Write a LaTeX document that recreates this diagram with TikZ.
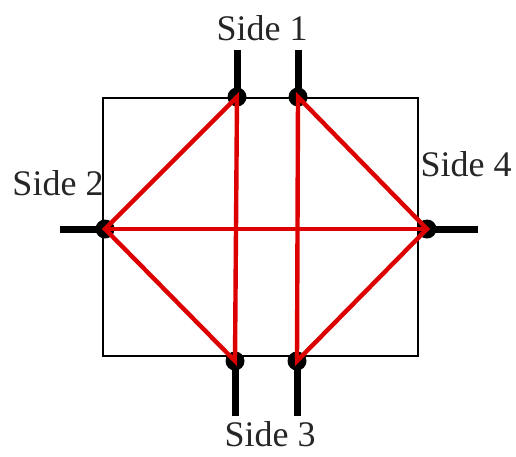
\documentclass[tikz,border=0pt]{standalone}
\usepackage{fontspec}
\setmainfont{Liberation Serif}
\begin{document}
\begin{tikzpicture}[x=1pt,y=-1pt,
  frame/.style={draw=black,line width=1.8pt},
  stub/.style={draw=black,line width=7pt},
  dotnode/.style={circle,fill=black,inner sep=0pt,minimum size=19pt},
  redline/.style={draw={rgb,255:red,220;green,0;blue,0},line width=4.4pt,line cap=round},
  lbl/.style={font=\fontsize{36}{40}\selectfont,text=black!85,inner sep=0pt}]
\useasboundingbox (0,0) rectangle (516,456);
\node[frame,minimum width=315pt,minimum height=258pt,inner sep=0pt] (box) at (260.5,227) {};
% end coordinates of the stubs
\coordinate (t1e) at (237,50);
\coordinate (t2e) at (298,50);
\coordinate (b1e) at (235,416);
\coordinate (b2e) at (297,416);
\coordinate (le) at (60,229);
\coordinate (re) at (478,229);
% dots
\node[dotnode] (t1) at (237,97) {};
\node[dotnode] (t2) at (298,97) {};
\node[dotnode] (b1) at (235,361) {};
\node[dotnode] (b2) at (297,361) {};
\node[dotnode] (l) at (105,229) {};
\node[dotnode] (r) at (427,229) {};
% stubs
\draw[stub] (t1e) -- (t1.center);
\draw[stub] (t2e) -- (t2.center);
\draw[stub] (b1e) -- (b1.center);
\draw[stub] (b2e) -- (b2.center);
\draw[stub] (le) -- (l.center);
\draw[stub] (re) -- (r.center);
% red lines
\draw[redline] (l.center) -- (t1.center) -- (b1.center) -- cycle;
\draw[redline] (l.center) -- (r.center);
\draw[redline] (r.center) -- (t2.center) -- (b2.center) -- cycle;
% labels
\node[lbl] (s1) at (262,28) {Side 1};
\node[lbl] (s2) at (58,183) {Side 2};
\node[lbl] (s3) at (270,434) {Side 3};
\node[lbl] (s4) at (466,164) {Side 4};
\end{tikzpicture}
\end{document}
